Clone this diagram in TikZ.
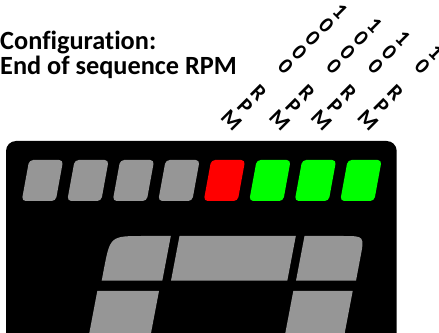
\documentclass[tikz,border=0pt]{standalone}
\usepackage{fontspec}
\setmainfont[Ligatures=NoCommon]{Carlito}
\begin{document}
\begin{tikzpicture}[x=1pt,y=1pt,
  title/.style={font=\fontsize{26.3}{25}\selectfont\bfseries, inner sep=0pt, anchor=base west},
  rpmlabel/.style={font=\fontsize{22}{19.2}\selectfont\bfseries, align=center, inner sep=0pt, rotate=-45, anchor=south},
  led/.style={rounded corners=4pt},
  segment/.style={fill=r150g150b150}]
% Fixing the size of the picture
\useasboundingbox (0,0) rectangle (439,332);
\clip (0,0) rectangle (439,332);

% Defining colors 150 150 150, 255 0 0, 0 255 0
\definecolor{r150g150b150}{RGB}{150,150,150}%
\definecolor{r255g0b0}{RGB}{255,0,0}%
\definecolor{r0g255b0}{RGB}{0,255,0}%

% Writing the title
\node[title] (cfg) at (0,282.7) {Configuration:};
\node[title] (seq) at (0,257.7) {End of sequence RPM};

% Writing the stacked RPM labels
\node[rpmlabel] (rpmA) at (226.2,206.5) {1\\0\\0\\0\\0\\~\\R\\P\\M};
\node[rpmlabel] (rpmB) at (274.5,206.5) {1\\0\\0\\0\\~\\R\\P\\M};
\node[rpmlabel] (rpmC) at (316.2,206.5) {1\\0\\0\\~\\R\\P\\M};
\node[rpmlabel] (rpmD) at (362.9,206.5) {1\\0\\~\\R\\P\\M};

% Drawing the black panel
\fill[black, rounded corners=10pt] (6,-30) rectangle (396.7,191);

% Drawing the shift lights
\foreach \col [count=\i from 0] in {r150g150b150,r150g150b150,r150g150b150,r150g150b150,r255g0b0,r0g255b0,r0g255b0,r0g255b0}
  \fill[led, fill=\col] ({21.7+45.5*\i},131) -- ++(34,0) -- ++(7.5,41) -- ++(-34,0) -- cycle;

% Drawing the upper segments of the digit
\fill[segment] (101.7,51.3) -- (103.7,62) .. controls (110.2,96) .. (144,96) -- (170.8,96) -- (162.3,51.3) -- cycle;
\fill[segment] (171,51.3) -- (287.3,51.3) -- (295.8,96) -- (179.5,96) -- cycle;
\fill[segment] (296,51.3) -- (304.5,96) -- (343,96) .. controls (364.5,96) .. (360.3,74) -- (356,51.3) -- cycle;

% Drawing the side segments of the digit
\fill[segment] (97.3,41) -- (159,41) -- (147.4,-20) -- (85.7,-20) -- cycle;
\fill[segment] (293.3,41) -- (352.7,41) -- (341.1,-20) -- (281.7,-20) -- cycle;
\end{tikzpicture}
\end{document}
